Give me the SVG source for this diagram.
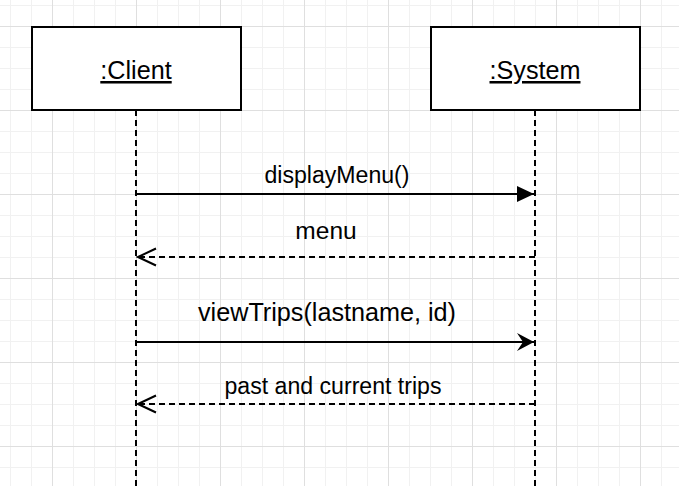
<svg xmlns="http://www.w3.org/2000/svg" width="679" height="486" viewBox="0 0 679 486">
  <defs>
    <pattern id="grid" patternUnits="userSpaceOnUse" x="52" y="26" width="84" height="84">
      <path d="M21.5,0V84M42.5,0V84M63.5,0V84M0,21.5H84M0,42.5H84M0,63.5H84" stroke="#f1f1f1" stroke-width="1" fill="none"/>
      <path d="M0.5,0V84M0,0.5H84" stroke="#dfdfdf" stroke-width="1" fill="none"/>
    </pattern>
    <marker id="filled" viewBox="0 0 18 18" refX="17" refY="9" markerWidth="18" markerHeight="18" markerUnits="userSpaceOnUse" orient="auto">
      <path d="M0,1 L17,9 L0,17 Z" fill="#000"/>
    </marker>
    <marker id="classic" viewBox="0 0 20 20" refX="18" refY="10" markerWidth="20" markerHeight="20" markerUnits="userSpaceOnUse" orient="auto">
      <path d="M18,10 L1,1 L7,10 L1,19 Z" fill="#000"/>
    </marker>
    <marker id="open" viewBox="0 0 22 22" refX="20" refY="11" markerWidth="22" markerHeight="22" markerUnits="userSpaceOnUse" orient="auto">
      <path d="M2,2.5 L20,11 L2,19.5" fill="none" stroke="#000" stroke-width="2"/>
    </marker>
  </defs>
  <style>
    .box { fill: #fff; stroke: #000; stroke-width: 2; }
    .life { stroke: #000; stroke-width: 2; stroke-dasharray: 6 4; fill: none; }
    .msg { stroke: #000; stroke-width: 2; fill: none; }
    .ret { stroke: #000; stroke-width: 2; stroke-dasharray: 6 4; fill: none; }
    text { font-family: "Liberation Sans", Arial, sans-serif; fill: #000; text-anchor: middle; }
    .title { font-size: 25.2px; text-decoration: underline; }
  </style>
  <rect x="0" y="0" width="679" height="486" fill="#fff"/>
  <rect x="0" y="0" width="679" height="486" fill="url(#grid)"/>

  <g id="connectors">
    <line class="life" x1="136" y1="110" x2="136" y2="486"/>
    <line class="life" x1="535" y1="110" x2="535" y2="486"/>
    <line class="msg" x1="136" y1="194" x2="534" y2="194" marker-end="url(#filled)"/>
    <line class="ret" x1="535" y1="257" x2="138" y2="257" marker-end="url(#open)"/>
    <line class="msg" x1="136" y1="342" x2="534" y2="342" marker-end="url(#classic)"/>
    <line class="ret" x1="535" y1="404" x2="138" y2="404" marker-end="url(#open)"/>
    <text x="337" y="183" font-size="23.1">displayMenu()</text>
    <text x="326" y="239" font-size="24.5">menu</text>
    <text x="327" y="321" font-size="25.2">viewTrips(lastname, id)</text>
    <text x="333" y="394" font-size="23.1">past and current trips</text>
  </g>

  <g id="client">
    <rect class="box" x="32" y="27" width="209" height="83"/>
    <text class="title" x="136" y="79">:Client</text>
  </g>
  <g id="system">
    <rect class="box" x="431" y="27" width="209" height="83"/>
    <text class="title" x="535" y="79">:System</text>
  </g>
</svg>
